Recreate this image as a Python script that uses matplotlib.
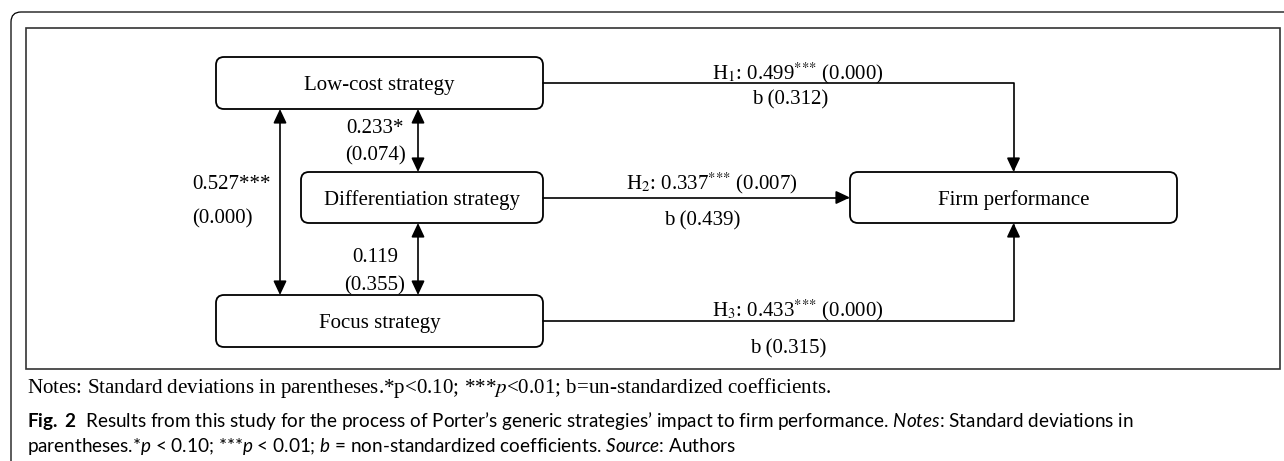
import matplotlib
matplotlib.use("Agg")
import matplotlib.pyplot as plt
from matplotlib.patches import FancyBboxPatch, FancyArrowPatch, PathPatch, Rectangle
from matplotlib.path import Path

plt.rcParams['font.family'] = ['Liberation Serif', 'DejaVu Serif']
# caption uses the "custom" math fonts for its italic / bold bits
plt.rcParams['mathtext.fontset'] = 'custom'
plt.rcParams['mathtext.rm'] = 'Lato'
plt.rcParams['mathtext.it'] = 'Lato:italic'
plt.rcParams['mathtext.bf'] = 'Lato:bold'

# data
constructs = ["Low-cost strategy", "Differentiation strategy", "Focus strategy", "Firm performance"]
hyp = ["H$_1$", "H$_2$", "H$_3$"]
beta = [0.499, 0.337, 0.433]
beta_sig = ["***", "***", "***"]
beta_p = [0.000, 0.007, 0.000]
b_unstd = [0.312, 0.439, 0.315]

corr_pairs = [("Low-cost strategy", "Differentiation strategy"),
              ("Differentiation strategy", "Focus strategy"),
              ("Low-cost strategy", "Focus strategy")]
corr = [0.233, 0.119, 0.527]
corr_sig = ["*", "", "***"]
corr_p = [0.074, 0.355, 0.000]

notes = "Notes: Standard deviations in parentheses.*p<0.10; ***$p$<0.01; b=un-standardized coefficients."
caption1 = r"$\mathbf{Fig.\ 2}$  Results from this study for the process of Porter’s generic strategies’ impact to firm performance. $\mathit{Notes}$: Standard deviations in"
caption2 = r"parentheses.*$\mathit{p}$ < 0.10; ***$\mathit{p}$ < 0.01; $\mathit{b}$ = non-standardized coefficients. $\mathit{Source}$: Authors"

# layout in pixels (x0, y0, x1, y1)
boxes = {
    "Low-cost strategy": (216, 57, 543, 109),
    "Differentiation strategy": (301, 172, 543, 223),
    "Focus strategy": (216, 295, 543, 347),
    "Firm performance": (850, 172, 1177, 223),
}
FS = 15

fig = plt.figure(figsize=(12.84, 4.61), dpi=100)
ax = fig.add_axes([0, 0, 1, 1])
ax.set_xlim(0, 1284)
ax.set_ylim(461, 0)
ax.axis('off')

# page frame (rounded top-left corner) and figure border
frame = Path([(11, 470), (11, 22), (11, 12), (21, 12), (1290, 12)],
             [Path.MOVETO, Path.LINETO, Path.CURVE3, Path.CURVE3, Path.LINETO])
ax.add_patch(PathPatch(frame, fill=False, lw=0.9, color='black'))
ax.add_patch(Rectangle((26, 28), 1254, 341, fill=False, lw=1.2, edgecolor='#333333'))

def cx(name):
    b = boxes[name]
    return (b[0] + b[2]) / 2

def cy(name):
    b = boxes[name]
    return (b[1] + b[3]) / 2

for name in constructs:
    x0, y0, x1, y1 = boxes[name]
    ax.add_patch(FancyBboxPatch((x0, y0), x1 - x0, y1 - y0,
                                boxstyle='round,pad=0,rounding_size=8',
                                fc='white', ec='black', lw=1.3))
    ax.text(cx(name), cy(name) + 7, name, ha='center', va='baseline', fontsize=FS)

def arrow(verts, style='-|>'):
    ax.add_patch(FancyArrowPatch(path=Path(verts),
                                 arrowstyle=f'{style},head_length=8.5,head_width=4',
                                 mutation_scale=1, lw=1.2, color='black'))

# paths to firm performance
target = "Firm performance"
corner_x = cx(target)
src = ["Low-cost strategy", "Differentiation strategy", "Focus strategy"]
label_pos = [(798, 72, 790, 97), (712, 182, 702, 218), (798, 309, 788, 346)]
for i, name in enumerate(src):
    x1 = boxes[name][2]
    y = cy(name)
    if name == "Differentiation strategy":
        arrow([(x1, y), (boxes[target][0], y)])
    elif y < cy(target):
        arrow([(x1, y), (corner_x, y), (corner_x, boxes[target][1])])
    else:
        arrow([(x1, y), (corner_x, y), (corner_x, boxes[target][3])])
    stars = ''.join('{*}' for _ in beta_sig[i])
    lab = f"{hyp[i]}: {beta[i]:.3f}" + "$^{" + stars + "}$" + f" ({beta_p[i]:.3f})"
    lx, ly, bx, by = label_pos[i]
    ax.text(lx, ly + 7, lab, ha='center', va='baseline', fontsize=FS, math_fontfamily='stix')
    ax.text(bx, by + 7, f"b ({b_unstd[i]:.3f})", ha='center', va='baseline', fontsize=FS)

# correlations between strategies
corr_x = [418, 418, 280]
corr_lab = [(375, 126, 375, 153, 'center'), (375, 255, 375, 283, 'center'), (192, 182, 192, 216, 'left')]
for i, (a, b) in enumerate(corr_pairs):
    x = corr_x[i]
    arrow([(x, boxes[a][3]), (x, boxes[b][1])], style='<|-|>')
    lx, ly, px, py, ha = corr_lab[i]
    ax.text(lx, ly + 7, f"{corr[i]:.3f}{corr_sig[i]}", ha=ha, va='baseline', fontsize=FS)
    ax.text(px, py + 7, f"({corr_p[i]:.3f})", ha=ha, va='baseline', fontsize=FS)

ax.text(27, 393, notes, ha='left', va='baseline', fontsize=15.1, math_fontfamily='stix')
ax.text(27, 426.5, caption1, ha='left', va='baseline', fontsize=13.6,
        family=['Lato'], math_fontfamily='custom')
ax.text(27, 451.5, caption2, ha='left', va='baseline', fontsize=13.6,
        family=['Lato'], math_fontfamily='custom')

fig.savefig('out.png', dpi=100)
